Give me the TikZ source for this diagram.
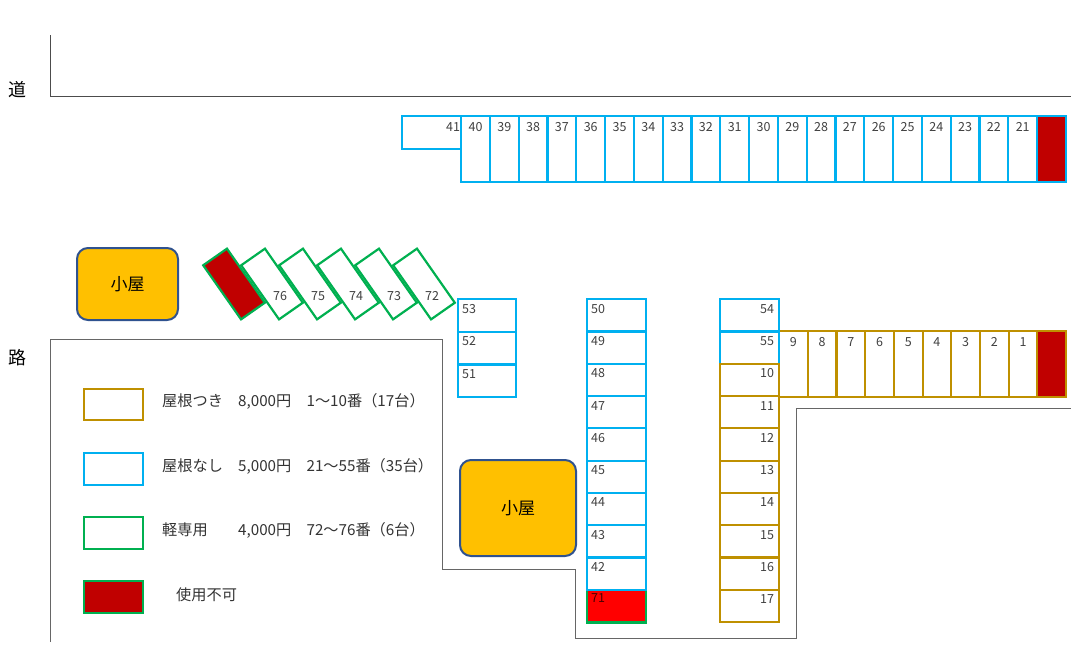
\documentclass[tikz,border=0pt]{standalone}
\usepackage{fontspec}
\setmainfont{Noto Sans CJK JP}
\usetikzlibrary{positioning}
\definecolor{roofc}{HTML}{BF9000}
\definecolor{openc}{HTML}{00B0F0}
\definecolor{keic}{HTML}{00B050}
\definecolor{ngc}{HTML}{C00000}
\definecolor{hutc}{HTML}{FFC000}
\definecolor{huteg}{HTML}{2F528F}
\tikzstyle{slot} = [draw, line width=2.2pt, inner sep=0pt]
\tikzstyle{roof} = [slot, draw=roofc]
\tikzstyle{open} = [slot, draw=openc]
\tikzstyle{kei} = [slot, draw=keic]
\tikzstyle{num} = [font=\fontsize{12.5}{13}\selectfont, text=black!75, inner sep=2pt]
\tikzstyle{hut} = [draw=huteg, line width=2pt, fill=hutc, rounded corners=11pt, font=\fontsize{17}{19}\selectfont]
\tikzstyle{legend} = [font=\fontsize{15.2}{17}\selectfont, text=black!80, anchor=west, inner sep=0pt]
\begin{document}
\begin{tikzpicture}[x=1pt, y=-1pt]
        \useasboundingbox (0,0) rectangle (1071,670);

        % Road lines
        \draw [black!70] (50,35) -- (50,96) -- (1071,96);
        \draw [black!60] (50,642) -- (50,339) -- (442,339) -- (442,569) -- (575,569) -- (575,638) -- (796,638) -- (796,408) -- (1071,408);
        \node (road1) at (18,90) {\fontsize{18}{20}\selectfont 道};
        \node (road2) at (18,358) {\fontsize{18}{20}\selectfont 路};

        % Top row 40..21
        \foreach \n [count=\i from 0] in {40,39,...,21} {
            \node (t\n) [open, minimum width=28.8pt, minimum height=66pt, anchor=north west] at (460+28.8*\i,115) {};
            \node [num, anchor=north] at (t\n.north) [yshift=-5pt] {\n};
        }
        \node (t41) [open, minimum width=59pt, minimum height=33pt, anchor=north west] at (401,115) {};
        \node [num, anchor=north east] at (t41.north east) [yshift=-5pt] {41};
        \node (tng) [slot, draw=openc, fill=ngc, minimum width=29pt, minimum height=66pt, anchor=north west] at (1036,115) {};

        % Right row 9..1
        \foreach \n [count=\i from 0] in {9,8,...,1} {
            \node (r\n) [roof, minimum width=28.7pt, minimum height=66pt, anchor=north west] at (778+28.7*\i,330) {};
            \node [num, anchor=north] at (r\n.north) [yshift=-5pt] {\n};
        }
        \node (rng) [slot, draw=roofc, fill=ngc, minimum width=29pt, minimum height=66pt, anchor=north west] at (1036,330) {};

        % Column 54, 55, 10..17
        \foreach \n/\s [count=\i from 0] in {54/open,55/open,10/roof,11/roof,12/roof,13/roof,14/roof,15/roof,16/roof,17/roof} {
            \node (c\n) [\s, minimum width=59pt, minimum height=32.3pt, anchor=north west] at (719,298+32.3*\i) {};
            \node [num, anchor=north east] at (c\n.north east) [xshift=-4pt, yshift=-4pt] {\n};
        }

        % Column 50..42, 71
        \node (m71) [kei, fill=red, minimum width=59pt, minimum height=32.3pt, anchor=north west] at (586,589) {};
        \node [num, text=black!70!red, anchor=north west] at (m71.north west) [xshift=3pt, yshift=-2pt] {71};
        \foreach \n [count=\i from 0] in {50,49,...,42} {
            \node (m\n) [open, minimum width=59pt, minimum height=32.3pt, anchor=north west] at (586,298+32.3*\i) {};
            \node [num, anchor=north west] at (m\n.north west) [xshift=3pt, yshift=-4pt] {\n};
        }

        % 53..51
        \foreach \n [count=\i from 0] in {53,52,51} {
            \node (s\n) [open, minimum width=58pt, minimum height=32.7pt, anchor=north west] at (457,298+32.7*\i) {};
            \node [num, anchor=north west] at (s\n.north west) [xshift=3pt, yshift=-4pt] {\n};
        }

        % Diagonal kei slots
        \node (kng) [kei, fill=ngc, minimum width=66pt, minimum height=29pt, rotate=-55] at (234,284) {};
        \foreach \n [count=\i] in {76,75,...,72} {
            \node (k\n) [kei, minimum width=66pt, minimum height=29pt, rotate=-55] at (234+38*\i,284) {};
            \node [num] at (242+38*\i,296) {\n};
        }

        % Huts
        \node (hut1) [hut, minimum width=101pt, minimum height=72pt] at (127.5,284) {小屋};
        \node (hut2) [hut, minimum width=116pt, minimum height=96pt] at (518,508) {小屋};

        % Legend
        \node (lg1) [roof, minimum width=59pt, minimum height=31pt, anchor=north west] at (83,388) {};
        \node (lg2) [open, minimum width=59pt, minimum height=32pt, anchor=north west] at (83,452) {};
        \node (lg3) [kei, minimum width=59pt, minimum height=32pt, anchor=north west] at (83,516) {};
        \node (lg4) [kei, fill=ngc, minimum width=59pt, minimum height=32pt, anchor=north west] at (83,580) {};
        \node [legend] at (162,401) {屋根つき　8,000円　1～10番（17台）};
        \node [legend] at (162,466) {屋根なし　5,000円　21～55番（35台）};
        \node [legend] at (162,530) {軽専用　　4,000円　72～76番（6台）};
        \node [legend] at (176,595) {使用不可};

\end{tikzpicture}
\end{document}
